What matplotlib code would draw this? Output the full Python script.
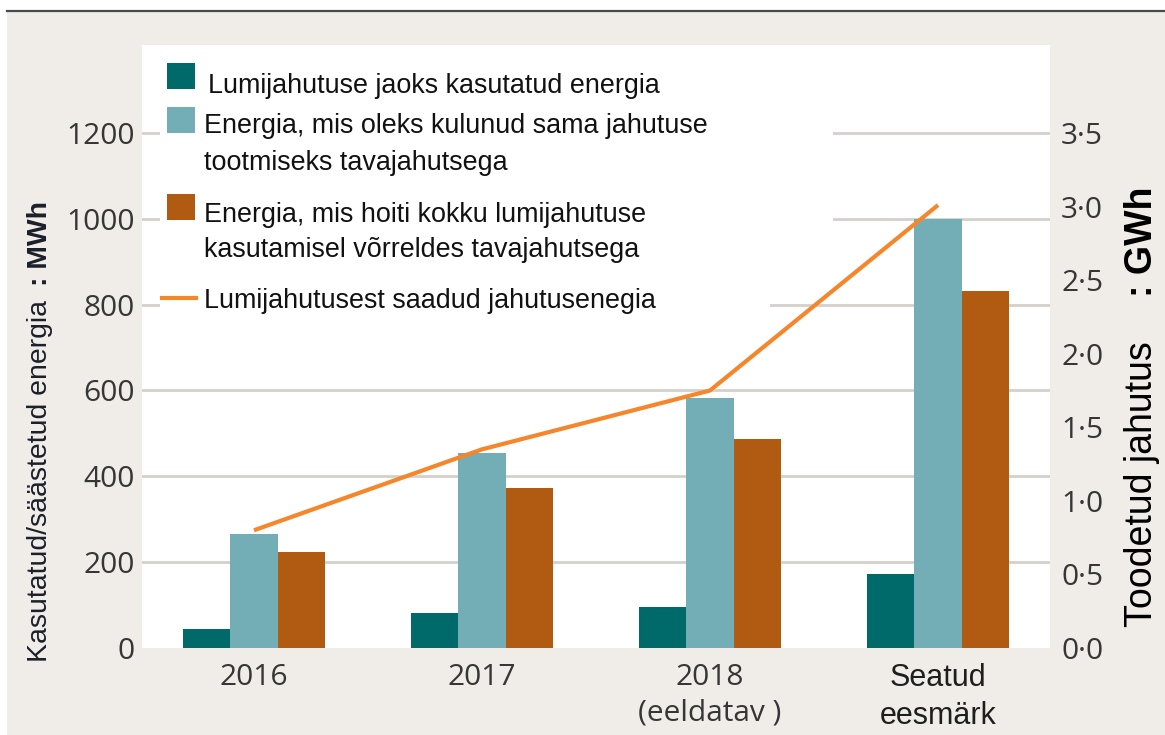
import matplotlib
matplotlib.use("Agg")
import matplotlib.pyplot as plt
from matplotlib.patches import Rectangle
from matplotlib.lines import Line2D
import numpy as np

# ---- data ----
categories = ["2016", "2017", "2018\n(eeldatav )", "Seatud\neesmärk"]
used_energy = [44, 81, 95, 172]          # MWh
conventional_energy = [265, 454, 582, 1000]  # MWh
saved_energy = [223, 372, 486, 832]      # MWh
produced_cooling = [0.80, 1.35, 1.75, 3.01]  # GWh
left_ticks = [0, 200, 400, 600, 800, 1000, 1200]
right_ticks = [0.0, 0.5, 1.0, 1.5, 2.0, 2.5, 3.0, 3.5]
legend_labels = [
    "Lumijahutuse jaoks kasutatud energia",
    "Energia, mis oleks kulunud sama jahutuse\ntootmiseks tavajahutsega",
    "Energia, mis hoiti kokku lumijahutuse\nkasutamisel võrreldes tavajahutsega",
    "Lumijahutusest saadud jahutusenegia",
]
ylabel_left = ("Kasutatud/säästetud energia", ": MWh")
ylabel_right = ("Toodetud jahutus", ": GWh")

# ---- style ----
C_DARK = "#006a6b"
C_LIGHT = "#73adb5"
C_ORANGE = "#b05a12"
C_LINE = "#f5862b"
C_BG = "#f0ede8"
C_GRID = "#d4d0cb"
C_TICK = "#363636"
TICK_FONT = "Open Sans"
TEXT_FONT = "Liberation Sans"

W, H = 1165, 735
fig = plt.figure(figsize=(W / 100, H / 100), dpi=100, facecolor="white")

def fx(px):
    return px / W

def fy(py):
    return 1 - py / H

# background panel and top rule
fig.patches.append(Rectangle((fx(7), 0), 1 - fx(7), fy(12), transform=fig.transFigure,
                             facecolor=C_BG, edgecolor="none", zorder=-10))
fig.lines.append(Line2D([fx(7), 1], [fy(11), fy(11)], transform=fig.transFigure,
                        color="#4a4a4a", lw=1.6, zorder=-9))

ax_l, ax_r, ax_t, ax_b = 142, 1050, 45, 648
ax = fig.add_axes([fx(ax_l), fy(ax_b), fx(ax_r - ax_l), fy(ax_t) - fy(ax_b)])
ax.set_facecolor("white")

x = np.arange(len(categories))
bw = 0.208
ax.bar(x - bw, used_energy, bw, color=C_DARK, zorder=3)
ax.bar(x, conventional_energy, bw, color=C_LIGHT, zorder=3)
ax.bar(x + bw, saved_energy, bw, color=C_ORANGE, zorder=3)

ymax = 1405
ax.set_ylim(0, ymax)
ax.set_xlim(-0.491, len(categories) - 1 + 0.491)
ax.set_yticks(left_ticks)
ax.set_yticklabels([str(v) for v in left_ticks], fontfamily=TICK_FONT, fontsize=21.5, color=C_TICK)
ax.tick_params(axis="y", length=0, pad=5)
ax.set_xticks(x)
ax.set_xticklabels(categories, fontfamily=TICK_FONT, fontsize=21.5, color=C_TICK, linespacing=1.28)
ax.tick_params(axis="x", length=0, pad=11)
xl = ax.get_xticklabels()
xl[-1].set_fontfamily(TEXT_FONT)
xl[-1].set_fontsize(22)
xl[-1].set_linespacing(1.32)
xl[-1].set_color("#1e1e1e")
for s in ax.spines.values():
    s.set_visible(False)
for v in left_ticks[1:]:
    ax.axhline(v, color=C_GRID, lw=2, zorder=1)

ax2 = ax.twinx()
ax2.set_ylim(0, ymax * 3.5 / 1200)
ax2.set_yticks(right_ticks)
ax2.set_yticklabels([f"{v:.1f}".replace(".", "·") for v in right_ticks],
                    fontfamily=TICK_FONT, fontsize=21.5, color=C_TICK)
ax2.tick_params(axis="y", length=0, pad=8)
for s in ax2.spines.values():
    s.set_visible(False)
ax2.plot(x, produced_cooling, color=C_LINE, lw=3, zorder=5, solid_capstyle="butt")

# legend (white panel covering grid)
fig.patches.append(Rectangle((fx(160), fy(262)), fx(833 - 160), fy(48) - fy(262),
                             transform=fig.transFigure, facecolor="white", edgecolor="none", zorder=2))
fig.patches.append(Rectangle((fx(160), fy(316)), fx(770 - 160), fy(262) - fy(316),
                             transform=fig.transFigure, facecolor="white", edgecolor="none", zorder=2))
sq = [(63, C_DARK), (107, C_LIGHT), (194, C_ORANGE)]
for top, col in sq:
    fig.patches.append(Rectangle((fx(167), fy(top + 26)), fx(28), fy(top) - fy(top + 26),
                                 transform=fig.transFigure, facecolor=col, edgecolor="none", zorder=3))
fig.lines.append(Line2D([fx(162), fx(196)], [fy(298), fy(298)], transform=fig.transFigure,
                        color=C_LINE, lw=3, zorder=3))
baselines = [[93], [133, 170], [222, 257], [308]]
xstarts = [208, 204, 204, 204]
for lab, bls, xs in zip(legend_labels, baselines, xstarts):
    for line, bl in zip(lab.split("\n"), bls):
        fig.text(fx(xs), fy(bl), line, fontfamily=TEXT_FONT, fontsize=19.4, color="#111111",
                 va="baseline", ha="left", zorder=4)

# axis labels
fig.text(fx(40), fy(662), ylabel_left[0], rotation=90, rotation_mode="anchor", ha="left",
         va="center", fontfamily=TEXT_FONT, fontsize=20.4, color="#1a1f2a")
fig.text(fx(40), fy(286), ylabel_left[1], rotation=90, rotation_mode="anchor", ha="left",
         va="center", fontfamily=TEXT_FONT, fontsize=20.4, fontweight="bold", color="#1a1f2a")
fig.text(fx(1142), fy(627), ylabel_right[0], rotation=90, rotation_mode="anchor", ha="left",
         va="center", fontfamily=TEXT_FONT, fontsize=27, color="#000000")
fig.text(fx(1142), fy(297), ylabel_right[1], rotation=90, rotation_mode="anchor", ha="left",
         va="center", fontfamily=TEXT_FONT, fontsize=27, fontweight="bold", color="#000000")

fig.savefig("out.png", dpi=100, facecolor=fig.get_facecolor())
